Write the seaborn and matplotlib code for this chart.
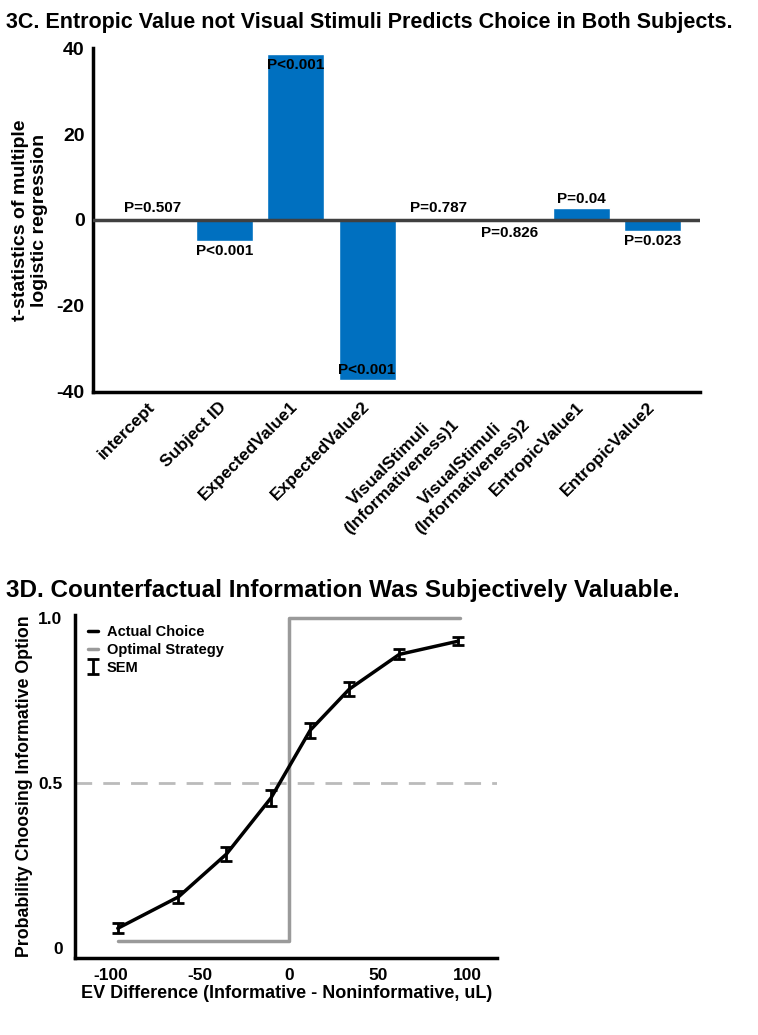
import numpy as np
import pandas as pd
import matplotlib
matplotlib.use("Agg")
import matplotlib.pyplot as plt
import seaborn as sns

# ---- data: 3C regression t-statistics ----
predictors = ["intercept", "Subject ID", "ExpectedValue1", "ExpectedValue2",
              "VisualStimuli\n(Informativeness)1", "VisualStimuli\n(Informativeness)2",
              "EntropicValue1", "EntropicValue2"]
t_stats = [0.5, -5.0, 38.5, -37.3, 0.1, -0.1, 2.7, -2.6]
p_labels = ["P=0.507", "P<0.001", "P<0.001", "P<0.001",
            "P=0.787", "P=0.826", "P=0.04", "P=0.023"]

# ---- data: 3D choice curve ----
ev_diff = [-96, -62, -35, -10, 12, 34, 62, 95]
p_choice = [0.06, 0.155, 0.285, 0.455, 0.66, 0.785, 0.89, 0.93]
sem = [0.015, 0.018, 0.022, 0.025, 0.022, 0.02, 0.015, 0.012]
opt_x = [-96, 0, 0, 96]
opt_y = [0.02, 0.02, 1.0, 1.0]

sns.set_style("white")
plt.rcParams["font.family"] = ["Liberation Sans", "DejaVu Sans"]
plt.rcParams["font.weight"] = "bold"
plt.rcParams["axes.unicode_minus"] = False
for k in ["text.color", "axes.labelcolor", "xtick.color", "ytick.color", "axes.edgecolor"]:
    plt.rcParams[k] = "black"

fig = plt.figure(figsize=(7.58, 10.35), dpi=100)

# -------------------- 3C BAR CHART --------------------
ax1 = fig.add_axes([0.1227, 0.6213, 0.8003, 0.3323])
df = pd.DataFrame({"pred": predictors, "t": t_stats})
sns.barplot(data=df, x="pred", y="t", color="#0070C0", saturation=1,
            width=0.8, ax=ax1)
ax1.set_xlim(-0.84, 7.66)
ax1.set_ylim(-40, 40)
ax1.axhline(0, color="#404040", lw=2.5, zorder=3)
ax1.set_yticks([-40, -20, 0, 20, 40])
ax1.set_yticks([40], minor=True)
ax1.tick_params(axis="y", which="major", length=0, labelsize=14, pad=6)
ax1.tick_params(axis="y", which="minor", direction="in", length=6, width=2.5)
ax1.tick_params(axis="x", length=0, labelsize=12.5, pad=9)
ax1.set_xticks(range(len(predictors)))
ax1.set_xticklabels(predictors, rotation=45, ha="right", va="center",
                    rotation_mode="anchor", fontweight="bold",
                    multialignment="center")
# two-line labels sit with their top corner at the tick
for lab in ax1.get_xticklabels():
    if "\n" in lab.get_text():
        lab.set_va("top")
for lab in ax1.get_yticklabels():
    lab.set_fontweight("bold")
ax1.set_xlabel("")
ax1.set_ylabel("t-statistics of multiple\nlogistic regression",
               fontsize=14, fontweight="bold", labelpad=6)
for s in ["top", "right"]:
    ax1.spines[s].set_visible(False)
ax1.spines["left"].set_linewidth(2.5)
ax1.spines["bottom"].set_linewidth(2.5)

# p-value labels
for i, (t, p) in enumerate(zip(t_stats, p_labels)):
    if abs(t) > 30:
        y = t - 0.8 if t > 0 else t + 0.8
        va = "top" if t > 0 else "bottom"
    elif t >= 0:
        y = max(t, 0.5) + 0.6
        va = "bottom"
    else:
        y = t - 0.6 if t < -1 else -1.5
        va = "top"
    ax1.text(i, y, p, ha="center", va=va, fontsize=11, fontweight="bold",
             zorder=4)

fig.text(0.008, 0.988, "3C. Entropic Value not Visual Stimuli Predicts Choice in Both Subjects.",
         fontsize=15.5, fontweight="bold", va="top", ha="left")

# -------------------- 3D CHOICE CURVE --------------------
ax2 = fig.add_axes([0.099, 0.0744, 0.557, 0.3316])
ax2.axhline(0.5, color="#BBBBBB", lw=2, ls=(0, (6, 4)), zorder=1)
sns.lineplot(x=opt_x, y=opt_y, color="#9A9A9A", lw=2.5, sort=False,
             estimator=None, ax=ax2, label="Optimal Strategy", zorder=2)
sns.lineplot(x=ev_diff, y=p_choice, color="black", lw=2.5, estimator=None,
             ax=ax2, label="Actual Choice", zorder=3)
eb = ax2.errorbar(ev_diff, p_choice, yerr=sem, fmt="none", ecolor="black",
                  elinewidth=2, capsize=4, capthick=2, label="SEM", zorder=4)
ax2.set_xlim(-120, 117)
ax2.set_ylim(-0.03, 1.01)
ax2.set_xticks([-100, -50, 0, 50, 100])
ax2.set_yticks([0, 0.5, 1.0])
ax2.set_yticklabels(["0", "0.5", "1.0"])
ax2.tick_params(direction="in", length=7, width=2.5, labelsize=12.5)
ax2.tick_params(axis="y", pad=9)
ax2.tick_params(axis="x", pad=7)
for lab in ax2.get_xticklabels() + ax2.get_yticklabels():
    lab.set_fontweight("bold")
for s in ["top", "right"]:
    ax2.spines[s].set_visible(False)
ax2.spines["left"].set_linewidth(2.5)
ax2.spines["bottom"].set_linewidth(2.5)
ax2.set_xlabel("EV Difference (Informative - Noninformative, uL)",
               fontsize=13, fontweight="bold", labelpad=2)
ax2.set_ylabel("Probability Choosing Informative Option",
               fontsize=12.8, fontweight="bold", labelpad=4)

h, l = ax2.get_legend_handles_labels()
order = [l.index("Actual Choice"), l.index("Optimal Strategy"), l.index("SEM")]
ax2.legend([h[i] for i in order], [l[i] for i in order], loc="upper left",
           frameon=False, fontsize=10.5, handlelength=0.7, handletextpad=0.6,
           borderaxespad=0.2, labelspacing=0.25, bbox_to_anchor=(0.01, 0.995))

fig.text(0.008, 0.418, "3D. Counterfactual Information Was Subjectively Valuable.",
         fontsize=17.5, fontweight="bold", va="bottom", ha="left")

fig.savefig("out.png", dpi=100)
